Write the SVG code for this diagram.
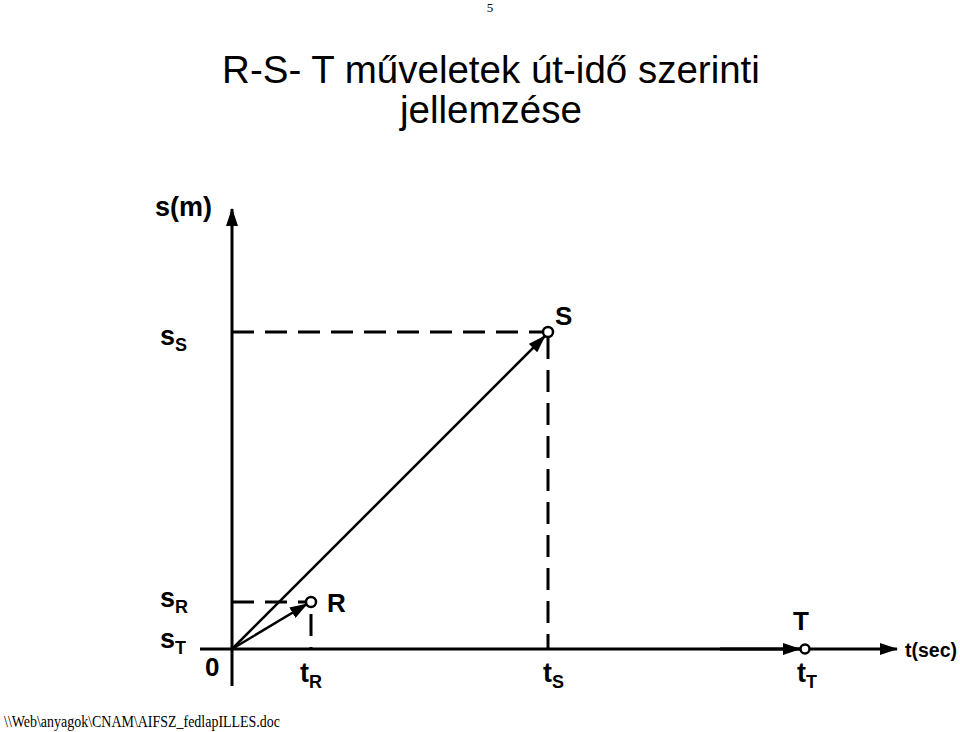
<svg xmlns="http://www.w3.org/2000/svg" width="960" height="732" viewBox="0 0 960 732">
<style>
.t{font-family:"Liberation Sans",Arial,sans-serif;font-weight:bold;fill:#000}
.ax{stroke:#000;stroke-width:3;fill:none}
.dash{stroke:#000;stroke-width:3;fill:none;stroke-dasharray:22 11}
.pt{fill:#fff;stroke:#000;stroke-width:2.5}
</style>
<defs>
<marker id="ahb" markerWidth="18" markerHeight="12" refX="17" refY="6" orient="auto" markerUnits="userSpaceOnUse" viewBox="0 0 18 12">
<path d="M0,0 L18,6 L0,12 z" fill="#000"/>
</marker>
</defs>
<rect width="960" height="732" fill="#fff"/>
<text x="490" y="12" font-family="Liberation Serif,serif" font-size="13" text-anchor="middle">5</text>
<text x="491" y="83" font-family="Liberation Sans,Arial,sans-serif" font-size="38.5" text-anchor="middle">R-S- T műveletek út-idő szerinti</text>
<text x="491" y="123" font-family="Liberation Sans,Arial,sans-serif" font-size="38.5" text-anchor="middle">jellemzése</text>
<g id="connectors">
<line class="ax" x1="232" y1="686" x2="232" y2="209" marker-end="url(#ahb)"/>
<line class="ax" x1="200" y1="649" x2="897" y2="649" marker-end="url(#ahb)"/>
<line class="ax" x1="720" y1="649" x2="800" y2="649" marker-end="url(#ahb)"/>
<line class="dash" x1="232" y1="332" x2="543" y2="332"/>
<line class="dash" x1="548" y1="337" x2="548" y2="649"/>
<line class="dash" x1="232" y1="602" x2="306" y2="602"/>
<line class="dash" x1="311" y1="614" x2="311" y2="649" stroke-dasharray="0 3 22 20"/>
<line stroke="#000" stroke-width="2.5" x1="232" y1="649" x2="545" y2="336" marker-end="url(#ahb)"/>
<line stroke="#000" stroke-width="2.5" x1="232" y1="649" x2="307" y2="604" marker-end="url(#ahb)"/>
</g>
<g id="axis-labels">
<text class="t" x="155" y="216" font-size="27">s(m)</text>
<text class="t" x="905" y="657" font-size="19.5">t(sec)</text>
<text class="t" x="205" y="676" font-size="26">0</text>
</g>
<g id="node-S">
<circle class="pt" cx="548" cy="332" r="5"/>
<text class="t" x="555" y="325" font-size="26">S</text>
<text class="t" x="160" y="345" font-size="27">s<tspan font-size="18" dy="6">S</tspan></text>
<text class="t" x="543" y="682" font-size="27">t<tspan font-size="18" dy="6">S</tspan></text>
</g>
<g id="node-R">
<circle class="pt" cx="311" cy="602" r="5"/>
<text class="t" x="327" y="612" font-size="26">R</text>
<text class="t" x="160" y="607" font-size="27">s<tspan font-size="18" dy="6">R</tspan></text>
<text class="t" x="300" y="682" font-size="27">t<tspan font-size="18" dy="6">R</tspan></text>
</g>
<g id="node-T">
<circle class="pt" cx="805" cy="649" r="4.5"/>
<text class="t" x="793" y="630" font-size="26">T</text>
<text class="t" x="160" y="648" font-size="27">s<tspan font-size="18" dy="6">T</tspan></text>
<text class="t" x="797" y="682" font-size="27">t<tspan font-size="18" dy="6">T</tspan></text>
</g>
<text x="4" y="727" font-family="Liberation Serif,serif" font-size="16" textLength="276" lengthAdjust="spacingAndGlyphs">\\Web\anyagok\CNAM\AIFSZ_fedlapILLES.doc</text>
</svg>
